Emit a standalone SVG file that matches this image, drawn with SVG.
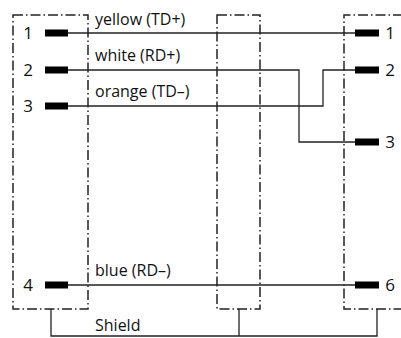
<svg xmlns="http://www.w3.org/2000/svg" width="401" height="338" viewBox="0 0 401 338">
<style>
.box{fill:none;stroke:#222;stroke-width:1.5;stroke-dasharray:10 3 1.5 3}
.w{fill:none;stroke:#222;stroke-width:1.3}
.pin{fill:#000}
.t{font-family:"Open Sans","Liberation Sans",sans-serif;font-size:16px;fill:#111}
.n{font-family:"Open Sans","Liberation Sans",sans-serif;font-size:17px;fill:#111;text-anchor:middle}
</style>
<rect width="401" height="338" fill="#fff"/>
<g id="left-connector">
<rect class="box" x="13" y="15" width="75" height="294"/>
<rect class="pin" x="45" y="29.5" width="23" height="7"/>
<rect class="pin" x="45" y="66.5" width="23" height="7"/>
<rect class="pin" x="45" y="102.5" width="23" height="7"/>
<rect class="pin" x="45" y="281.5" width="23" height="7"/>
<text class="n" x="28" y="39">1</text>
<text class="n" x="28" y="76">2</text>
<text class="n" x="28" y="112">3</text>
<text class="n" x="28" y="291">4</text>
</g>
<g id="middle-connector">
<rect class="box" x="217" y="15" width="43" height="294"/>
</g>
<g id="right-connector">
<path class="box" d="M403 15 H344 V309 H403"/>
<rect class="pin" x="355" y="29.5" width="24" height="7"/>
<rect class="pin" x="355" y="66.5" width="24" height="7"/>
<rect class="pin" x="355" y="138.5" width="24" height="7"/>
<rect class="pin" x="355" y="281.5" width="24" height="7"/>
<text class="n" x="390" y="39">1</text>
<text class="n" x="390" y="76">2</text>
<text class="n" x="390" y="148">3</text>
<text class="n" x="390" y="291">6</text>
</g>
<g id="connectors">
<path class="w" d="M68 33 H355"/>
<path class="w" d="M68 70 H299 V142 H355"/>
<path class="w" d="M68 106 H323 V70 H355"/>
<path class="w" d="M68 285 H355"/>
<path class="w" d="M51 309 V336 H377 V309 M239 309 V336"/>
</g>
<g id="labels">
<text class="t" x="95" y="25">yellow (TD+)</text>
<text class="t" x="95" y="61">white (RD+)</text>
<text class="t" x="95" y="97">orange (TD–)</text>
<text class="t" x="95" y="276">blue (RD–)</text>
<text class="t" x="95" y="331">Shield</text>
</g>
</svg>
